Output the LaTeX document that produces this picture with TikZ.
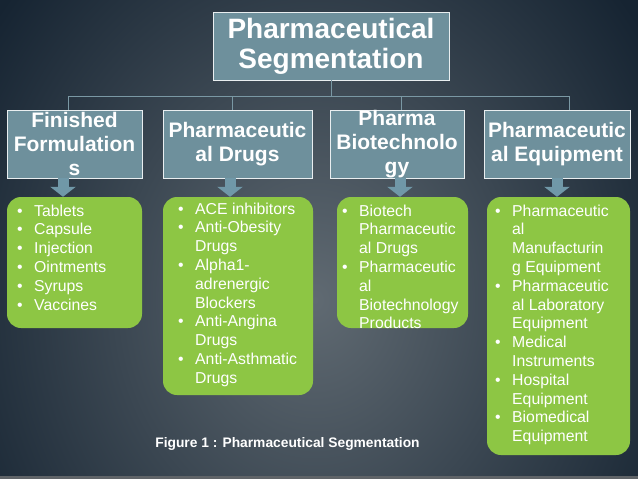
\documentclass[tikz,border=0pt]{standalone}
\usepackage{fontspec}
\setmainfont{Liberation Sans}
\usetikzlibrary{arrows.meta}
\definecolor{bgdark}{RGB}{22,36,50}
\definecolor{bglight}{RGB}{96,106,114}
\definecolor{segblue}{RGB}{110,144,156}
\definecolor{segline}{RGB}{122,152,164}
\definecolor{leafgreen}{RGB}{141,198,68}
\definecolor{arrowblue}{RGB}{112,152,168}
\newcommand\itm{\makebox[17pt][l]{\textbullet}}
\newcommand\cnt{\hspace*{17pt}}

\begin{document}
\begin{tikzpicture}[x=1pt,y=-1pt,
    segbox/.style={draw=white!85!segblue, line width=0.8pt, fill=segblue, text=white,
      inner sep=0pt, align=center, minimum height=68pt,
      font=\bfseries\fontsize{21}{24}\selectfont},
    leafbox/.style={fill=leafgreen, rounded corners=14pt, inner sep=0pt},
    leaftext/.style={anchor=north west, inner sep=0pt, align=left, text=white,
      font=\fontsize{15.8}{18.8}\selectfont},
    conn/.style={segline, line width=1pt},
    leafarrow/.style={arrowblue, line width=11pt, -{Triangle[width=25pt,length=10pt]}}]
  % background
  \begin{scope}
    \clip (0,0) rectangle (638,479);
    \fill[bgdark] (0,0) rectangle (638,479);
    \shade[inner color=bglight, outer color=bgdark] (315,300) ellipse (400 and 470);
    \fill[gray!70!bgdark] (0,476) rectangle (638,479);
  \end{scope}
  \useasboundingbox (0,0) rectangle (638,479);

  \node[segbox, minimum width=236pt, font=\bfseries\fontsize{28}{30}\selectfont] (seg) at (331,46) {Pharmaceutical\\Segmentation};

  \node[segbox, minimum width=135pt] (b1) at (74.5,144) {Finished\\Formulation\\s};
  \node[segbox, minimum width=149pt] (b2) at (237.5,144) {Pharmaceutic\\al Drugs};
  \node[segbox, minimum width=134pt] (b3) at (397,144) {Pharma\\Biotechnolo\\gy};
  \node[segbox, minimum width=146pt] (b4) at (557,144) {Pharmaceutic\\al Equipment};

  \draw[conn] (seg.south) -- ++(0,16) coordinate (bus);
  \foreach \b/\dx in {b1/-6.5,b2/-5.5,b3/4,b4/12}
    \draw[conn] (bus) -| ([xshift=\dx pt]\b.north);

  \node[leafbox, minimum width=135pt, minimum height=131pt] (g1) at (74.5,262.5) {};
  \node[leafbox, minimum width=150pt, minimum height=198pt] (g2) at (238,296) {};
  \node[leafbox, minimum width=131pt, minimum height=131pt] (g3) at (402.5,262.5) {};
  \node[leafbox, minimum width=143pt, minimum height=258pt] (g4) at (558.5,326) {};

  \draw[leafarrow] ([xshift=-11.5pt]b1.south) -- ([xshift=-11.5pt]b1.south |- g1.north);
  \draw[leafarrow] ([xshift=-7.5pt]b2.south) -- ([xshift=-7.5pt]b2.south |- g2.north);
  \draw[leafarrow] ([xshift=3pt]b3.south) -- ([xshift=3pt]b3.south |- g3.north);
  \draw[leafarrow] (b4.south) -- (b4.south |- g4.north);

  \node[leaftext] (t1) at (17,204.5) {\itm Tablets\\\itm Capsule\\\itm Injection\\\itm Ointments\\\itm Syrups\\\itm Vaccines};
  \node[leaftext] (t2) at (178,202.5) {\itm ACE inhibitors\\\itm Anti-Obesity\\\cnt Drugs\\\itm Alpha1-\\\cnt adrenergic\\\cnt Blockers\\\itm Anti-Angina\\\cnt Drugs\\\itm Anti-Asthmatic\\\cnt Drugs};
  \node[leaftext] (t3) at (342,204.5) {\itm Biotech\\\cnt Pharmaceutic\\\cnt al Drugs\\\itm Pharmaceutic\\\cnt al\\\cnt Biotechnology\\\cnt Products};
  \node[leaftext] (t4) at (495,204.5) {\itm Pharmaceutic\\\cnt al\\\cnt Manufacturin\\\cnt g Equipment\\\itm Pharmaceutic\\\cnt al Laboratory\\\cnt Equipment\\\itm Medical\\\cnt Instruments\\\itm Hospital\\\cnt Equipment\\\itm Biomedical\\\cnt Equipment};

  \node[anchor=base, text=white, font=\bfseries\fontsize{13.8}{16}\selectfont] (cap) at (287.5,447) {Figure 1 : Pharmaceutical Segmentation};
\end{tikzpicture}
\end{document}
